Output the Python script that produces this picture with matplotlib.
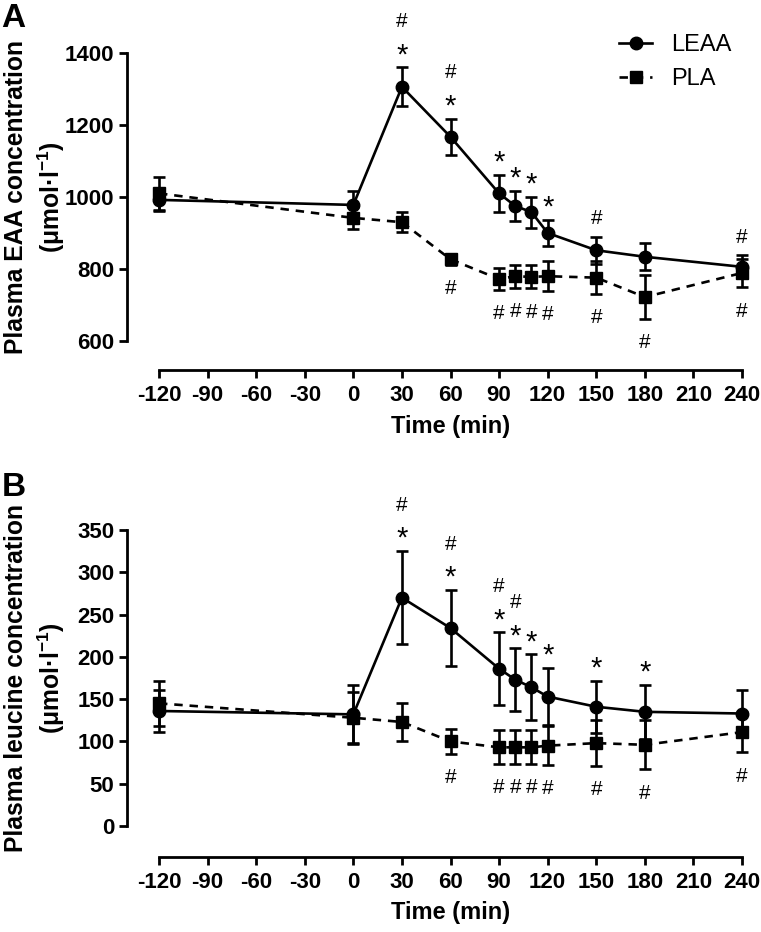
import numpy as np
import matplotlib
matplotlib.use("Agg")
from matplotlib import pyplot as plt
from matplotlib.lines import Line2D

plt.rcParams['font.family'] = ['Liberation Sans', 'DejaVu Sans']
plt.rcParams['font.weight'] = 'bold'
plt.rcParams['axes.unicode_minus'] = False
plt.rcParams['mathtext.fontset'] = 'custom'
plt.rcParams['mathtext.bf'] = 'Liberation Sans:bold'
plt.rcParams['mathtext.rm'] = 'Liberation Sans:bold'

# time points (min)
time = [-120, 0, 30, 60, 90, 100, 110, 120, 150, 180, 240]

# panel A: plasma EAA
leaa_a = [992, 978, 1306, 1167, 1010, 975, 958, 900, 852, 834, 806]
leaa_a_err = [30, 40, 54, 51, 52, 43, 43, 37, 38, 38, 32]
pla_a = [1010, 942, 930, 827, 772, 780, 778, 780, 776, 722, 789]
pla_a_err = [45, 30, 28, 15, 30, 32, 32, 42, 45, 60, 40]

# panel B: plasma leucine
leaa_b = [136, 132, 270, 234, 186, 173, 164, 153, 141, 135, 133]
leaa_b_err = [25, 35, 55, 45, 43, 37, 39, 34, 31, 32, 28]
pla_b = [145, 128, 123, 100, 93, 93, 93, 95, 98, 96, 111]
pla_b_err = [27, 30, 23, 15, 20, 20, 20, 23, 27, 29, 24]

# significance marks: (time, symbol) above LEAA, '#' below PLA
marks_a_leaa = [(30, '*#'), (60, '*#'), (90, '*'), (100, '*'), (110, '*'), (120, '*'),
                (150, '#'), (240, '#')]
marks_a_pla = [60, 90, 100, 110, 120, 150, 180, 240]
marks_b_leaa = [(30, '*#'), (60, '*#'), (90, '*#'), (100, '*#'), (110, '*'), (120, '*'),
                (150, '*'), (180, '*')]
marks_b_pla = [60, 90, 100, 110, 120, 150, 180, 240]

xticks = [-120, -90, -60, -30, 0, 30, 60, 90, 120, 150, 180, 210, 240]

fig = plt.figure(figsize=(7.61, 9.32), dpi=100)
axA = fig.add_axes([159/761, 1-341/932, 583/761, 288/932])
axB = fig.add_axes([159/761, 1-826/932, 583/761, 296/932])

lw = 1.9
pla_ls = (0, (3.2, 2.6))


def draw(ax, leaa, leaa_err, pla, pla_err, marks_leaa, marks_pla, ylim, yticks, ylabel, xoff):
    ax.errorbar(time, pla, yerr=pla_err, color='black', lw=lw, ls=pla_ls,
                marker='s', ms=8.8, capsize=4.2, elinewidth=lw, capthick=lw,
                clip_on=False, zorder=3)
    ax.errorbar(time, leaa, yerr=leaa_err, color='black', lw=lw, ls='-',
                marker='o', ms=9, capsize=4.2, elinewidth=lw, capthick=lw,
                clip_on=False, zorder=4)
    ax.set_xlim(-120, 240)
    ax.set_ylim(*ylim)
    ax.set_xticks(xticks)
    ax.set_yticks(yticks)
    for s in ['top', 'right']:
        ax.spines[s].set_visible(False)
    ax.spines['left'].set_position(('outward', 23))
    ax.spines['bottom'].set_position(('outward', xoff))
    ax.spines['left'].set_linewidth(2)
    ax.spines['bottom'].set_linewidth(2)
    ax.tick_params(axis='both', width=2, length=6, labelsize=16)
    ax.tick_params(axis='y', pad=3)
    ax.tick_params(axis='x', pad=5)
    ax.set_xlabel('Time (min)', fontsize=17, fontweight='bold', labelpad=6)
    ax.set_ylabel(ylabel, fontsize=17.7, fontweight='bold', linespacing=1.3)
    ax.yaxis.set_label_coords(-92/583, 0.5)

    idx = {t: i for i, t in enumerate(time)}
    for t, sym in marks_leaa:
        i = idx[t]
        top = leaa[i] + leaa_err[i]
        if '*' in sym:
            ax.annotate('*', xy=(t, top), xytext=(0, 3), textcoords='offset points',
                        ha='center', va='baseline', fontsize=21, fontweight='normal',
                        annotation_clip=False)
            if '#' in sym:
                ax.annotate('#', xy=(t, top), xytext=(0, 29), textcoords='offset points',
                            ha='center', va='baseline', fontsize=15, fontweight='normal',
                            annotation_clip=False)
        else:
            ax.annotate('#', xy=(t, top), xytext=(0, 9), textcoords='offset points',
                        ha='center', va='baseline', fontsize=15, fontweight='normal',
                        annotation_clip=False)
    for t in marks_pla:
        i = idx[t]
        bot = pla[i] - pla_err[i]
        ax.annotate('#', xy=(t, bot), xytext=(0, -21), textcoords='offset points',
                    ha='center', va='baseline', fontsize=15, fontweight='normal',
                    annotation_clip=False)


draw(axA, leaa_a, leaa_a_err, pla_a, pla_a_err, marks_a_leaa, marks_a_pla,
     (600, 1400), [600, 800, 1000, 1200, 1400],
     'Plasma EAA concentration\n(μmol·l$\\mathbf{^{-1}}$)', 21)
draw(axB, leaa_b, leaa_b_err, pla_b, pla_b_err, marks_b_leaa, marks_b_pla,
     (0, 350), [0, 50, 100, 150, 200, 250, 300, 350],
     'Plasma leucine concentration\n(μmol·l$\\mathbf{^{-1}}$)', 22)

handles = [Line2D([], [], color='black', lw=lw, ls='-', marker='o', ms=9),
           Line2D([], [], color='black', lw=lw, ls=pla_ls, marker='s', ms=8.8)]
axA.legend(handles, ['LEAA', 'PLA'], loc='upper left', bbox_to_anchor=(598/761, 1-13/932),
           bbox_transform=fig.transFigure, frameon=False, handlelength=1.4,
           handletextpad=0.8, labelspacing=0.5, prop={'size': 17, 'weight': 'normal'})

fig.text(0.002, 1-3/932, 'A', fontsize=24, fontweight='bold', va='top')
fig.text(0.002, 1-472/932, 'B', fontsize=24, fontweight='bold', va='top')

fig.savefig('out.png', dpi=100)
